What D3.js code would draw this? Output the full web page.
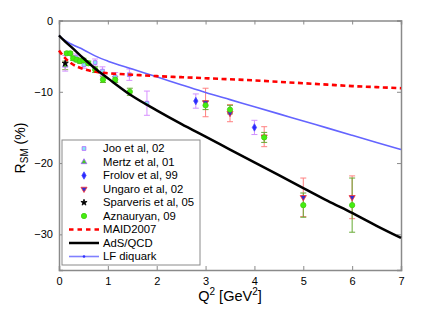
<!DOCTYPE html>
<html>
<head>
<meta charset="utf-8">
<script src="https://cdn.jsdelivr.net/npm/d3@7"></script>
<style>
  body { margin: 0; background: #fff; }
  text { font-family: "Liberation Sans", Arial, sans-serif; }
</style>
</head>
<body>
<svg width="431" height="310"></svg>
<script>
// experimental data: Q2, R_SM, error
var jooQ = [0.35, 0.51, 0.74, 0.89, 1.15, 1.44, 1.8];
var jooR = [-5.2, -6.2, -5.9, -7.1, -7.9, -7.6, -11.6];
var jooE = [0.5, 0.5, 0.5, 0.6, 0.6, 0.8, 1.7];

var mertzQ = [0.127];
var mertzR = [-6.3];
var mertzE = [0.6];

var frolovQ = [2.8, 4.0];
var frolovR = [-11.3, -15.0];
var frolovE = [1.0, 1.0];

var ungaroQ = [3.0, 3.5, 4.2, 5.0, 6.0];
var ungaroR = [-11.5, -13.0, -16.3, -24.8, -24.8];
var ungaroE = [2.0, 1.2, 1.4, 2.7, 3.0];

var sparQ = [0.127];
var sparR = [-6.0];
var sparE = [1.1];

var aznQ = [0.16, 0.23, 0.29, 0.36, 0.43, 0.5, 0.6, 0.74, 0.9, 1.15, 1.45, 3.0, 3.5, 4.2, 5.0, 6.0];
var aznR = [-4.6, -4.6, -5.3, -5.5, -5.7, -5.6, -6.0, -6.9, -8.3, -8.3, -10.0, -11.9, -12.5, -16.4, -25.9, -25.9];
var aznE = [0.2, 0.2, 0.3, 0.3, 0.3, 0.3, 0.3, 0.4, 0.4, 0.4, 0.5, 0.6, 0.6, 0.7, 1.7, 3.8];

// model curves
var curveQ = [0, 0.1, 0.25, 0.5, 0.75, 1, 1.5, 2, 2.5, 3, 3.5, 4, 4.5, 5, 5.5, 6, 6.5, 7];
var maidR  = [-4.2, -5.1, -6.0, -6.8, -7.2, -7.4, -7.6, -7.8, -7.95, -8.1, -8.25, -8.4, -8.6, -8.8, -9.0, -9.2, -9.35, -9.5];
var adsR   = [-2.1, -2.8, -3.7, -5.3, -6.8, -8.1, -10.6, -12.6, -14.5, -16.3, -18.1, -19.9, -21.7, -23.5, -25.3, -27.0, -28.8, -30.5];
var lfR    = [-2.1, -2.7, -3.3, -4.1, -5.0, -5.7, -6.8, -7.9, -9.0, -10.1, -11.1, -12.1, -13.1, -14.1, -15.1, -16.1, -17.1, -18.1];

var xTicks = [0, 1, 2, 3, 4, 5, 6, 7];
var yTicks = [0, -10, -20, -30];

var svg = d3.select("svg");
var x = d3.scaleLinear().domain([0, 7]).range([59, 401]);
var y = d3.scaleLinear().domain([-35, 0]).range([270, 20.5]);

var frameColor = "#8a8a8a";

// white plot background
svg.append("rect")
    .attr("x", x(0)).attr("y", y(0))
    .attr("width", x(7) - x(0)).attr("height", y(-35) - y(0))
    .attr("fill", "#fff");

// axes with inward ticks
function styleAxis(g) {
    g.select(".domain").attr("stroke", frameColor).attr("stroke-width", 1.5);
    g.selectAll(".tick line").attr("stroke", frameColor);
    g.selectAll(".tick text").attr("fill", "#000")
        .style("font-family", "'Liberation Sans', Arial, sans-serif")
        .style("font-size", "11px");
}
svg.append("g").attr("transform", "translate(0," + y(-35) + ")")
    .call(d3.axisBottom(x).tickValues(xTicks).tickSize(-4).tickPadding(7).tickFormat(d3.format("d")))
    .call(styleAxis);
svg.append("g").attr("transform", "translate(0," + y(0) + ")")
    .call(d3.axisTop(x).tickValues(xTicks).tickSize(-4).tickFormat(""))
    .call(styleAxis);
svg.append("g").attr("transform", "translate(" + x(0) + ",0)")
    .call(d3.axisLeft(y).tickValues(yTicks).tickSize(-4).tickPadding(6))
    .call(styleAxis);
svg.append("g").attr("transform", "translate(" + x(7) + ",0)")
    .call(d3.axisRight(y).tickValues(yTicks).tickSize(-4).tickFormat(""))
    .call(styleAxis);

var plot = svg.append("g");

function errorBars(qs, rs, es, color) {
    var g = plot.append("g").attr("stroke", color).attr("stroke-width", 1);
    qs.forEach(function (q, i) {
        var cx = x(q), top = y(rs[i] + es[i]), bot = y(rs[i] - es[i]);
        g.append("line").attr("x1", cx).attr("x2", cx).attr("y1", top).attr("y2", bot);
        g.append("line").attr("x1", cx - 3).attr("x2", cx + 3).attr("y1", top).attr("y2", top);
        g.append("line").attr("x1", cx - 3).attr("x2", cx + 3).attr("y1", bot).attr("y2", bot);
    });
}

var markers = {
    joo: { type: d3.symbolSquare, size: 14, fill: "#7ff0f0", stroke: "#b060ff" },
    mertz: { type: d3.symbolTriangle, size: 14, fill: "#44cc22", stroke: "#a060ff" },
    frolov: { type: d3.symbolDiamond, size: 16, fill: "#2a2aff", stroke: "#4a4aff" },
    ungaro: { type: d3.symbolTriangle, size: 16, fill: "#3030d0", stroke: "#ff3030", rot: 180 },
    spar: { type: d3.symbolStar, size: 12, fill: "#000", stroke: "#000" },
    azn: { type: d3.symbolCircle, size: 22, fill: "#44ee10", stroke: "#44cc10" }
};

function drawMarker(g, m, cx, cy) {
    g.append("path")
        .attr("d", d3.symbol().type(m.type).size(m.size)())
        .attr("transform", "translate(" + cx + "," + cy + ")" + (m.rot ? " rotate(" + m.rot + ")" : ""))
        .attr("fill", m.fill)
        .attr("stroke", m.stroke)
        .attr("stroke-width", 0.8);
}

function points(qs, rs, m) {
    var g = plot.append("g");
    qs.forEach(function (q, i) { drawMarker(g, m, x(q), y(rs[i])); });
}

errorBars(jooQ, jooR, jooE, "#d890ff");
errorBars(mertzQ, mertzR, mertzE, "#88aa44");
errorBars(frolovQ, frolovR, frolovE, "#d090ff");
errorBars(ungaroQ, ungaroR, ungaroE, "#ff8080");
errorBars(sparQ, sparR, sparE, "#d090ff");
errorBars(aznQ, aznR, aznE, "#66aa33");

points(jooQ, jooR, markers.joo);
points(mertzQ, mertzR, markers.mertz);
points(frolovQ, frolovR, markers.frolov);
points(ungaroQ, ungaroR, markers.ungaro);
points(sparQ, sparR, markers.spar);
points(aznQ, aznR, markers.azn);

// model curves
var line = d3.line().curve(d3.curveMonotoneX)
    .x(function (d) { return x(d[0]); })
    .y(function (d) { return y(d[1]); });

function zipCurve(rs) { return curveQ.map(function (q, i) { return [q, rs[i]]; }); }

plot.append("path").datum(zipCurve(lfR)).attr("d", line)
    .attr("fill", "none").attr("stroke", "#6464ff").attr("stroke-width", 1.6);
plot.append("path").datum(zipCurve(maidR)).attr("d", line)
    .attr("fill", "none").attr("stroke", "#ff0000").attr("stroke-width", 2.6)
    .attr("stroke-dasharray", "5,3.5");
plot.append("path").datum(zipCurve(adsR)).attr("d", line)
    .attr("fill", "none").attr("stroke", "#000").attr("stroke-width", 2.5);

// legend
var legendNames = ["Joo et al, 02", "Mertz et al, 01", "Frolov et al, 99", "Ungaro et al, 02",
    "Sparveris et al, 05", "Aznauryan, 09", "MAID2007", "AdS/QCD", "LF diquark"];
var legendKeys = ["joo", "mertz", "frolov", "ungaro", "spar", "azn", "maid", "ads", "lf"];

var leg = svg.append("g");
leg.append("rect").attr("x", 62).attr("y", 140).attr("width", 138).attr("height", 125)
    .attr("fill", "#fff").attr("stroke", frameColor).attr("stroke-width", 1);

legendKeys.forEach(function (k, i) {
    var ly = 148.5 + i * 13.5;
    if (markers[k]) {
        drawMarker(leg, markers[k], 84, ly);
    } else if (k === "maid") {
        leg.append("line").attr("x1", 69).attr("x2", 99).attr("y1", ly).attr("y2", ly)
            .attr("stroke", "#ff0000").attr("stroke-width", 2.5).attr("stroke-dasharray", "4.5,4");
    } else if (k === "ads") {
        leg.append("line").attr("x1", 69).attr("x2", 99).attr("y1", ly).attr("y2", ly)
            .attr("stroke", "#000").attr("stroke-width", 2.5);
    } else {
        leg.append("line").attr("x1", 69).attr("x2", 99).attr("y1", ly).attr("y2", ly)
            .attr("stroke", "#8080ff").attr("stroke-width", 1.6);
        leg.append("circle").attr("cx", 84).attr("cy", ly).attr("r", 1.3).attr("fill", "#3030ff");
    }
    leg.append("text").attr("x", 103).attr("y", ly).attr("dy", "0.35em")
        .style("font-size", "11.3px").text(legendNames[i]);
});

// axis labels
var yl = svg.append("text")
    .attr("transform", "translate(25,148) rotate(-90)")
    .attr("text-anchor", "middle")
    .style("font-size", "14px");
yl.append("tspan").text("R");
yl.append("tspan").attr("dy", 3).style("font-size", "10px").text("SM");
yl.append("tspan").attr("dy", -3).text(" (%)");

var xl = svg.append("text")
    .attr("x", 230).attr("y", 301)
    .attr("text-anchor", "middle")
    .style("font-size", "14.5px");
xl.append("tspan").text("Q");
xl.append("tspan").attr("dy", -6).style("font-size", "10px").text("2");
xl.append("tspan").attr("dy", 6).text(" [GeV");
xl.append("tspan").attr("dy", -6).style("font-size", "10px").text("2");
xl.append("tspan").attr("dy", 6).text("]");
</script>
</body>
</html>
